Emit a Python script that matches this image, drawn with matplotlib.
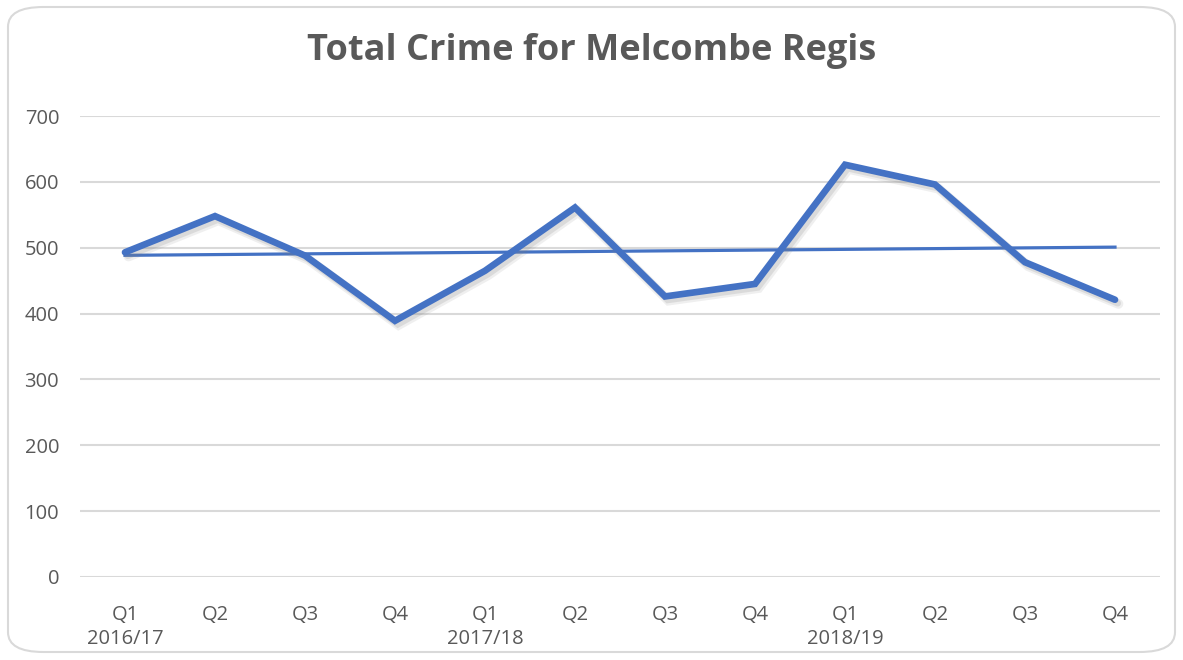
import numpy as np
import matplotlib
matplotlib.use("Agg")
import matplotlib.pyplot as plt
import matplotlib.patheffects as pe
from matplotlib.patches import FancyBboxPatch

# quarterly totals
quarters = ["Q1", "Q2", "Q3", "Q4", "Q1", "Q2", "Q3", "Q4", "Q1", "Q2", "Q3", "Q4"]
years = ["2016/17", "", "", "", "2017/18", "", "", "", "2018/19", "", "", ""]
crime = [493, 548, 488, 389, 465, 561, 426, 445, 626, 596, 478, 421]
y_ticks = [0, 100, 200, 300, 400, 500, 600, 700]

LINE_COL = "#4472C4"
TEXT_COL = "#595959"
GRID_COL = "#D9D9D9"

plt.rcParams["font.family"] = ["Open Sans", "DejaVu Sans"]

fig = plt.figure(figsize=(11.83, 6.6), dpi=100)
ax = fig.add_axes([80 / 1183, 83 / 660, 1080 / 1183, 461 / 660])

# rounded chart border
border = FancyBboxPatch((8 / 1183, 8 / 660), 1167 / 1183, 645 / 660,
                        boxstyle="round,pad=0,rounding_size=0.03",
                        transform=fig.transFigure, facecolor="white",
                        edgecolor="#D9D9D9", linewidth=1.5, zorder=-10)
fig.patches.append(border)

x = np.arange(len(crime))
# soft drop shadow under the main line
shadow = [pe.SimpleLineShadow(offset=(2.5, -3), shadow_color="#7f7f7f", alpha=0.12, linewidth=7),
          pe.SimpleLineShadow(offset=(2, -2.5), shadow_color="#7f7f7f", alpha=0.18),
          pe.Normal()]
ax.plot(x, crime, color=LINE_COL, linewidth=4.8, solid_joinstyle="miter",
        solid_capstyle="round", path_effects=shadow, zorder=3)

# linear trendline
k, b = np.polyfit(x, crime, 1)
ax.plot(x, k * x + b, color=LINE_COL, linewidth=2.3, zorder=2)

ax.set_xlim(-0.5, len(crime) - 0.5)
ax.set_ylim(0, 700)
ax.set_yticks(y_ticks)
ax.set_xticks(x)
ax.set_xticklabels([q + "\n" + y if y else q for q, y in zip(quarters, years)],
                   linespacing=1.3)
ax.tick_params(axis="both", length=0, colors=TEXT_COL, labelsize=14.5)
ax.tick_params(axis="x", pad=20)
ax.tick_params(axis="y", pad=15)
for lab in ax.get_xticklabels():
    lab.set_verticalalignment("top")

ax.grid(axis="y", color=GRID_COL, linewidth=1.5)
ax.set_axisbelow(True)
for s in ax.spines.values():
    s.set_visible(False)

fig.text(0.5, 1 - 51 / 660, "Total Crime for Melcombe Regis", ha="center", va="center",
         fontsize=26, fontweight="bold", color=TEXT_COL)

fig.savefig("out.png", dpi=100, facecolor="white")
